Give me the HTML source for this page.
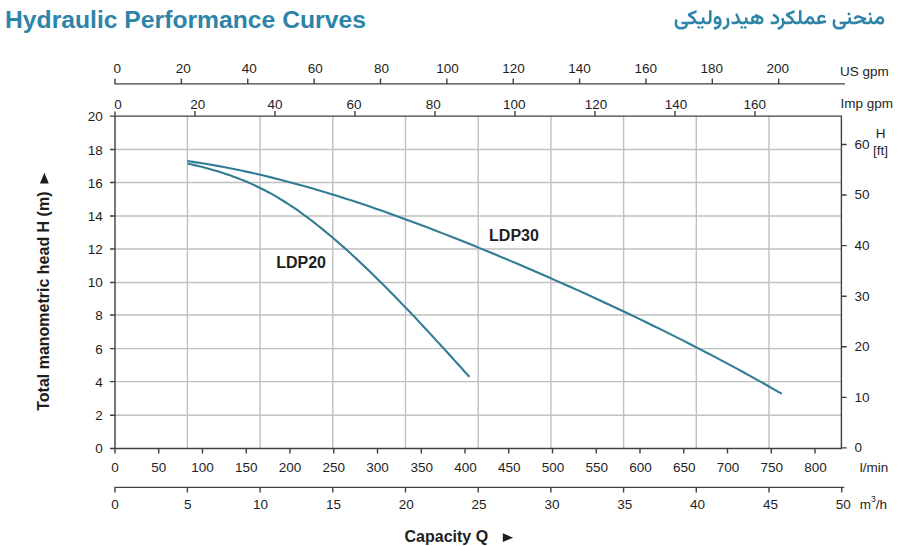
<!DOCTYPE html><html><head><meta charset="utf-8"><style>html,body{margin:0;padding:0;background:#fff;width:900px;height:546px;overflow:hidden}</style></head><body><svg width="900" height="546" viewBox="0 0 900 546" style="position:absolute;left:0;top:0"><path d="M187.40 116.10V448.50M260.10 116.10V448.50M332.80 116.10V448.50M405.50 116.10V448.50M478.20 116.10V448.50M550.90 116.10V448.50M623.60 116.10V448.50M696.30 116.10V448.50M769.00 116.10V448.50M115.00 415.20H841.40M115.00 381.60H841.40M115.00 348.60H841.40M115.00 315.00H841.40M115.00 282.50H841.40M115.00 249.00H841.40M115.00 216.00H841.40M115.00 182.50H841.40M115.00 149.50H841.40" stroke="#c0c0c0" stroke-width="1.4" fill="none"/><path d="M115.0 111.60V453.50M110.0 116.10H841.40V448.50H110.0M110.0 415.20H115.0M110.0 381.60H115.0M110.0 348.60H115.0M110.0 315.00H115.0M110.0 282.50H115.0M110.0 249.00H115.0M110.0 216.00H115.0M110.0 182.50H115.0M110.0 149.50H115.0M158.75 448.50v5M202.50 448.50v5M246.25 448.50v5M290.00 448.50v5M333.75 448.50v5M377.50 448.50v5M421.25 448.50v5M465.00 448.50v5M508.75 448.50v5M552.50 448.50v5M596.25 448.50v5M640.00 448.50v5M683.75 448.50v5M727.50 448.50v5M771.25 448.50v5M815.00 448.50v5M195.00 116.10v-5M275.00 116.10v-5M355.00 116.10v-5M435.00 116.10v-5M515.00 116.10v-5M595.00 116.10v-5M675.00 116.10v-5M755.00 116.10v-5M841.40 447.90h5.3M841.40 397.33h5.3M841.40 346.77h5.3M841.40 296.20h5.3M841.40 245.63h5.3M841.40 195.07h5.3M841.40 144.50h5.3M115.0 78.40V83.9H845M181.37 83.90v-5.5M247.74 83.90v-5.5M314.11 83.90v-5.5M380.48 83.90v-5.5M446.85 83.90v-5.5M513.22 83.90v-5.5M579.59 83.90v-5.5M645.96 83.90v-5.5M712.33 83.90v-5.5M778.70 83.90v-5.5M115.0 492.40V487.4H844.20M187.40 487.40v5M260.10 487.40v5M332.80 487.40v5M405.50 487.40v5M478.20 487.40v5M550.90 487.40v5M623.60 487.40v5M696.30 487.40v5M769.00 487.40v5M841.70 487.40v5" stroke="#404040" stroke-width="1.4" fill="none"/><path d="M187.3 161.03 194.8 162.13 202.3 163.30 209.8 164.55 217.4 165.88 224.9 167.27 232.4 168.74 239.9 170.28 247.4 171.89 254.9 173.56 262.5 175.30 270.0 177.11 277.5 178.98 285.0 180.91 292.5 182.90 300.0 184.95 307.5 187.06 315.1 189.23 322.6 191.45 330.1 193.72 337.6 196.05 345.1 198.43 352.6 200.86 360.1 203.34 367.7 205.86 375.2 208.43 382.7 211.05 390.2 213.70 397.7 216.40 405.2 219.14 412.8 221.91 420.3 224.73 427.8 227.57 435.3 230.45 442.8 233.37 450.3 236.31 457.8 239.29 465.4 242.29 472.9 245.32 480.4 248.37 487.9 251.45 495.4 254.56 502.9 257.70 510.5 260.86 518.0 264.04 525.5 267.25 533.0 270.49 540.5 273.75 548.0 277.03 555.5 280.34 563.1 283.67 570.6 287.02 578.1 290.40 585.6 293.81 593.1 297.24 600.6 300.70 608.2 304.18 615.7 307.69 623.2 311.23 630.7 314.81 638.2 318.41 645.7 322.04 653.2 325.70 660.8 329.39 668.3 333.11 675.8 336.87 683.3 340.66 690.8 344.48 698.3 348.34 705.8 352.24 713.4 356.17 720.9 360.14 728.4 364.15 735.9 368.19 743.4 372.28 750.9 376.41 758.5 380.58 766.0 384.79 773.5 389.04 781.0 393.34" stroke="#327d95" stroke-width="2.1" fill="none" stroke-linecap="butt" stroke-linejoin="round"/><path d="M187.3 163.53 190.9 164.30 194.4 165.11 198.0 165.95 201.6 166.83 205.1 167.74 208.7 168.70 212.2 169.69 215.8 170.73 219.4 171.82 222.9 172.95 226.5 174.13 230.1 175.36 233.6 176.65 237.2 177.98 240.7 179.37 244.3 180.82 247.9 182.33 251.4 183.90 255.0 185.53 258.6 187.22 262.1 188.98 265.7 190.80 269.3 192.70 272.8 194.66 276.4 196.70 279.9 198.81 283.5 200.99 287.1 203.25 290.6 205.58 294.2 207.98 297.8 210.45 301.3 212.98 304.9 215.57 308.5 218.22 312.0 220.94 315.6 223.70 319.1 226.53 322.7 229.40 326.3 232.33 329.8 235.30 333.4 238.32 337.0 241.38 340.5 244.49 344.1 247.64 347.6 250.83 351.2 254.06 354.8 257.33 358.3 260.63 361.9 263.98 365.5 267.36 369.0 270.77 372.6 274.22 376.2 277.71 379.7 281.22 383.3 284.76 386.8 288.34 390.4 291.94 394.0 295.57 397.5 299.22 401.1 302.90 404.7 306.61 408.2 310.33 411.8 314.08 415.4 317.85 418.9 321.64 422.5 325.45 426.0 329.27 429.6 333.11 433.2 336.97 436.7 340.84 440.3 344.73 443.9 348.62 447.4 352.53 451.0 356.45 454.5 360.37 458.1 364.31 461.7 368.25 465.2 372.20 468.8 376.15" stroke="#327d95" stroke-width="2.1" fill="none" stroke-linecap="butt" stroke-linejoin="round"/><circle cx="781.00" cy="393.34" r="1.05" fill="#327d95"/><circle cx="468.80" cy="376.15" r="1.05" fill="#327d95"/><g font-family="Liberation Sans, sans-serif"><text x="117.20" y="73.00" text-anchor="middle" font-size="13.5" font-weight="400" fill="#1e1e1e">0</text><text x="183.26" y="73.00" text-anchor="middle" font-size="13.5" font-weight="400" fill="#1e1e1e">20</text><text x="249.32" y="73.00" text-anchor="middle" font-size="13.5" font-weight="400" fill="#1e1e1e">40</text><text x="315.38" y="73.00" text-anchor="middle" font-size="13.5" font-weight="400" fill="#1e1e1e">60</text><text x="381.44" y="73.00" text-anchor="middle" font-size="13.5" font-weight="400" fill="#1e1e1e">80</text><text x="447.50" y="73.00" text-anchor="middle" font-size="13.5" font-weight="400" fill="#1e1e1e">100</text><text x="513.56" y="73.00" text-anchor="middle" font-size="13.5" font-weight="400" fill="#1e1e1e">120</text><text x="579.62" y="73.00" text-anchor="middle" font-size="13.5" font-weight="400" fill="#1e1e1e">140</text><text x="645.68" y="73.00" text-anchor="middle" font-size="13.5" font-weight="400" fill="#1e1e1e">160</text><text x="711.74" y="73.00" text-anchor="middle" font-size="13.5" font-weight="400" fill="#1e1e1e">180</text><text x="777.80" y="73.00" text-anchor="middle" font-size="13.5" font-weight="400" fill="#1e1e1e">200</text><text x="840.00" y="75.90" text-anchor="start" font-size="13.5" font-weight="400" fill="#1e1e1e">US gpm</text><text x="117.90" y="108.80" text-anchor="middle" font-size="13.5" font-weight="400" fill="#1e1e1e">0</text><text x="197.80" y="108.80" text-anchor="middle" font-size="13.5" font-weight="400" fill="#1e1e1e">20</text><text x="275.00" y="108.80" text-anchor="middle" font-size="13.5" font-weight="400" fill="#1e1e1e">40</text><text x="354.00" y="108.80" text-anchor="middle" font-size="13.5" font-weight="400" fill="#1e1e1e">60</text><text x="433.30" y="108.80" text-anchor="middle" font-size="13.5" font-weight="400" fill="#1e1e1e">80</text><text x="514.30" y="108.80" text-anchor="middle" font-size="13.5" font-weight="400" fill="#1e1e1e">100</text><text x="596.00" y="108.80" text-anchor="middle" font-size="13.5" font-weight="400" fill="#1e1e1e">120</text><text x="676.00" y="108.80" text-anchor="middle" font-size="13.5" font-weight="400" fill="#1e1e1e">140</text><text x="754.70" y="108.80" text-anchor="middle" font-size="13.5" font-weight="400" fill="#1e1e1e">160</text><text x="840.50" y="108.30" text-anchor="start" font-size="13.5" font-weight="400" fill="#1e1e1e">Imp gpm</text><text x="102.80" y="453.20" text-anchor="end" font-size="13.5" font-weight="400" fill="#1e1e1e">0</text><text x="102.80" y="420.02" text-anchor="end" font-size="13.5" font-weight="400" fill="#1e1e1e">2</text><text x="102.80" y="386.84" text-anchor="end" font-size="13.5" font-weight="400" fill="#1e1e1e">4</text><text x="102.80" y="353.66" text-anchor="end" font-size="13.5" font-weight="400" fill="#1e1e1e">6</text><text x="102.80" y="320.48" text-anchor="end" font-size="13.5" font-weight="400" fill="#1e1e1e">8</text><text x="102.80" y="287.30" text-anchor="end" font-size="13.5" font-weight="400" fill="#1e1e1e">10</text><text x="102.80" y="254.12" text-anchor="end" font-size="13.5" font-weight="400" fill="#1e1e1e">12</text><text x="102.80" y="220.94" text-anchor="end" font-size="13.5" font-weight="400" fill="#1e1e1e">14</text><text x="102.80" y="187.76" text-anchor="end" font-size="13.5" font-weight="400" fill="#1e1e1e">16</text><text x="102.80" y="154.58" text-anchor="end" font-size="13.5" font-weight="400" fill="#1e1e1e">18</text><text x="102.80" y="121.40" text-anchor="end" font-size="13.5" font-weight="400" fill="#1e1e1e">20</text><text x="854.60" y="452.20" text-anchor="start" font-size="13.5" font-weight="400" fill="#1e1e1e">0</text><text x="854.60" y="401.63" text-anchor="start" font-size="13.5" font-weight="400" fill="#1e1e1e">10</text><text x="854.60" y="351.07" text-anchor="start" font-size="13.5" font-weight="400" fill="#1e1e1e">20</text><text x="854.60" y="300.50" text-anchor="start" font-size="13.5" font-weight="400" fill="#1e1e1e">30</text><text x="854.60" y="249.93" text-anchor="start" font-size="13.5" font-weight="400" fill="#1e1e1e">40</text><text x="854.60" y="199.37" text-anchor="start" font-size="13.5" font-weight="400" fill="#1e1e1e">50</text><text x="854.60" y="148.80" text-anchor="start" font-size="13.5" font-weight="400" fill="#1e1e1e">60</text><text x="880.50" y="138.00" text-anchor="middle" font-size="13.5" font-weight="400" fill="#1e1e1e">H</text><text x="880.50" y="155.00" text-anchor="middle" font-size="13.5" font-weight="400" fill="#1e1e1e">[ft]</text><text x="115.00" y="472.40" text-anchor="middle" font-size="13.5" font-weight="400" fill="#1e1e1e">0</text><text x="158.75" y="472.40" text-anchor="middle" font-size="13.5" font-weight="400" fill="#1e1e1e">50</text><text x="202.50" y="472.40" text-anchor="middle" font-size="13.5" font-weight="400" fill="#1e1e1e">100</text><text x="246.25" y="472.40" text-anchor="middle" font-size="13.5" font-weight="400" fill="#1e1e1e">150</text><text x="290.00" y="472.40" text-anchor="middle" font-size="13.5" font-weight="400" fill="#1e1e1e">200</text><text x="333.75" y="472.40" text-anchor="middle" font-size="13.5" font-weight="400" fill="#1e1e1e">250</text><text x="377.50" y="472.40" text-anchor="middle" font-size="13.5" font-weight="400" fill="#1e1e1e">300</text><text x="421.75" y="472.40" text-anchor="middle" font-size="13.5" font-weight="400" fill="#1e1e1e">350</text><text x="465.50" y="472.40" text-anchor="middle" font-size="13.5" font-weight="400" fill="#1e1e1e">400</text><text x="509.25" y="472.40" text-anchor="middle" font-size="13.5" font-weight="400" fill="#1e1e1e">450</text><text x="553.00" y="472.40" text-anchor="middle" font-size="13.5" font-weight="400" fill="#1e1e1e">500</text><text x="596.75" y="472.40" text-anchor="middle" font-size="13.5" font-weight="400" fill="#1e1e1e">550</text><text x="640.50" y="472.40" text-anchor="middle" font-size="13.5" font-weight="400" fill="#1e1e1e">600</text><text x="684.25" y="472.40" text-anchor="middle" font-size="13.5" font-weight="400" fill="#1e1e1e">650</text><text x="728.00" y="472.40" text-anchor="middle" font-size="13.5" font-weight="400" fill="#1e1e1e">700</text><text x="771.75" y="472.40" text-anchor="middle" font-size="13.5" font-weight="400" fill="#1e1e1e">750</text><text x="815.50" y="472.40" text-anchor="middle" font-size="13.5" font-weight="400" fill="#1e1e1e">800</text><text x="859.80" y="472.40" text-anchor="start" font-size="13.5" font-weight="400" fill="#1e1e1e">l/min</text><text x="114.90" y="508.80" text-anchor="middle" font-size="13.5" font-weight="400" fill="#1e1e1e">0</text><text x="187.74" y="508.80" text-anchor="middle" font-size="13.5" font-weight="400" fill="#1e1e1e">5</text><text x="260.58" y="508.80" text-anchor="middle" font-size="13.5" font-weight="400" fill="#1e1e1e">10</text><text x="333.42" y="508.80" text-anchor="middle" font-size="13.5" font-weight="400" fill="#1e1e1e">15</text><text x="406.26" y="508.80" text-anchor="middle" font-size="13.5" font-weight="400" fill="#1e1e1e">20</text><text x="479.10" y="508.80" text-anchor="middle" font-size="13.5" font-weight="400" fill="#1e1e1e">25</text><text x="551.94" y="508.80" text-anchor="middle" font-size="13.5" font-weight="400" fill="#1e1e1e">30</text><text x="624.78" y="508.80" text-anchor="middle" font-size="13.5" font-weight="400" fill="#1e1e1e">35</text><text x="697.62" y="508.80" text-anchor="middle" font-size="13.5" font-weight="400" fill="#1e1e1e">40</text><text x="770.46" y="508.80" text-anchor="middle" font-size="13.5" font-weight="400" fill="#1e1e1e">45</text><text x="843.30" y="508.80" text-anchor="middle" font-size="13.5" font-weight="400" fill="#1e1e1e">50</text><text x="859.8" y="508.6" font-size="13.5" fill="#1e1e1e">m<tspan font-size="8.5" dy="-6.3">3</tspan><tspan dy="6.3">/h</tspan></text><text x="276.20" y="267.60" text-anchor="start" font-size="16" font-weight="700" fill="#1e1e1e">LDP20</text><text x="489.10" y="241.20" text-anchor="start" font-size="16" font-weight="700" fill="#1e1e1e">LDP30</text><text x="404.50" y="542.00" text-anchor="start" font-size="16" font-weight="700" fill="#1e1e1e">Capacity Q</text><path d="M502.8 533.3L513.2 537.7L502.8 542.0Z" fill="#1e1e1e"/><text transform="translate(49.1 410.8) rotate(-90)" font-size="16" font-weight="700" fill="#1e1e1e">Total manometric head H (m)</text><path d="M39.9 183.4L44.4 172.8L48.8 183.4Z" fill="#1e1e1e"/><text x="5.0" y="27.8" font-size="24.7" font-weight="700" fill="#2e84a8">Hydraulic Performance Curves</text></g><path transform="translate(674.6 9.9)" fill="#2e84a8" fill-rule="evenodd" d="M70.69 15.94 69.06 17.44 69.06 17.69 70.56 19.19 72.19 17.56ZM67.19 15.94 65.56 17.56 67.19 19.19 68.81 17.56ZM27.69 15.94 26.06 17.44 26.06 17.69 27.56 19.19 29.19 17.56ZM24.19 15.94 22.56 17.56 24.19 19.19 25.81 17.56ZM54.06 7.94 51.56 8.69 52.44 12.31 52.31 14.19 51.69 15.44 50.81 16.31 49.06 17.19 47.69 17.44 48.69 19.94 49.94 19.69 51.94 18.69 53.31 17.44 54.19 16.06 54.81 13.69 54.81 11.31ZM43.81 6.31 42.44 6.19 41.06 6.69 39.94 7.81 39.31 9.06 39.06 10.06 39.06 11.69 39.56 13.06 40.31 13.81 41.44 14.31 44.19 14.44 43.94 15.06 42.56 16.31 40.44 17.19 39.06 17.44 39.94 19.94 41.69 19.56 44.19 18.31 45.31 17.31 46.56 15.19 46.94 13.31 46.94 11.44 46.69 9.94 45.69 7.69 44.69 6.69ZM41.81 9.31 42.69 8.81 43.56 9.06 44.31 10.19 44.56 11.56 43.44 11.81 41.81 11.56 41.44 11.19 41.44 10.19ZM158.06 14.31 158.31 15.56 158.94 17.06 159.56 17.94 160.31 18.56 161.69 19.31 162.69 19.56 165.44 19.69 167.44 19.31 169.44 18.31 170.56 17.19 171.19 15.56 171.19 14.44 173.56 14.19 174.69 13.56 175.19 13.06 175.94 13.81 176.94 14.31 180.44 14.44 183.19 13.94 187.44 12.19 187.94 13.19 188.81 13.94 190.94 14.44 194.19 14.31 195.31 13.81 196.19 13.06 196.44 13.44 197.56 14.19 198.44 14.44 199.94 14.44 201.19 14.06 202.31 13.06 203.69 14.06 205.44 14.69 206.56 14.69 208.19 14.06 209.06 13.06 209.56 11.44 209.56 9.94 208.94 8.19 207.94 7.06 206.56 6.44 205.19 6.31 204.19 6.56 203.56 6.94 202.44 8.06 200.69 10.94 199.81 11.69 198.44 11.69 197.69 11.19 197.31 9.81 197.19 7.44 194.94 7.69 194.94 10.69 194.19 11.56 192.94 11.81 190.31 11.69 189.31 11.19 190.19 10.69 191.56 10.44 191.56 7.94 189.69 7.69 184.31 5.44 182.69 5.31 181.06 5.94 179.69 7.31 178.94 8.56 181.06 9.56 182.31 8.19 182.81 7.94 183.69 7.94 187.06 9.19 187.06 9.56 184.06 10.94 181.31 11.69 178.44 11.81 177.06 11.56 176.44 10.69 176.19 7.44 173.94 7.69 173.94 10.69 172.94 11.69 164.69 11.81 165.06 13.56 165.56 14.44 168.19 14.44 168.94 14.94 168.94 15.31 168.44 15.94 167.69 16.44 165.94 16.94 163.69 17.06 162.06 16.56 160.94 15.44 160.56 14.56 160.44 12.81 161.06 10.06 158.81 9.19 158.19 11.44ZM205.19 8.94 206.06 8.94 206.56 9.19 207.06 9.81 207.19 11.06 207.06 11.44 206.31 12.06 205.44 11.94 204.44 11.44 203.69 10.69 204.19 9.81ZM99.19 3.69 98.94 3.69 97.94 6.06 99.94 7.19 101.81 8.94 102.31 9.94 102.19 10.69 101.56 11.31 99.44 11.81 98.06 11.81 96.06 11.44 96.06 14.19 97.44 14.44 99.56 14.44 101.81 14.06 103.06 13.44 104.06 12.44 104.44 11.69 104.69 9.94 104.56 8.94 104.06 7.69 102.94 6.19 101.94 5.31ZM57.06 14.19 58.31 14.44 61.44 14.31 62.94 13.81 64.19 12.94 65.06 13.81 66.44 14.44 69.69 14.31 71.06 13.69 71.69 13.06 72.44 13.81 73.94 14.44 76.94 14.44 80.19 13.56 83.31 14.31 85.56 14.31 87.44 13.56 88.31 12.69 88.81 11.44 88.94 9.69 88.44 8.31 87.44 7.19 85.44 5.81 81.19 3.81 80.19 5.69 78.94 5.81 77.94 6.31 77.06 7.19 76.44 8.81 76.56 10.31 77.19 11.56 77.06 11.69 74.69 11.81 73.44 11.44 72.94 10.56 72.69 7.44 70.44 7.69 70.56 10.19 70.44 10.81 69.94 11.44 68.44 11.81 66.81 11.69 65.94 10.81 62.81 3.44 62.56 3.44 60.69 4.31 60.56 4.56 62.69 9.19 62.69 10.81 62.31 11.19 61.06 11.69 59.06 11.81 57.06 11.44ZM84.19 8.06 85.81 9.06 86.56 9.94 86.44 11.19 85.56 11.81 84.56 11.94 83.19 11.69 84.06 10.06ZM79.94 7.81 81.31 7.94 82.06 8.94 81.94 10.06 81.31 10.69 80.56 11.06 79.69 10.69 78.81 9.69 78.94 8.56ZM195.44 2.44 195.19 2.44 193.69 4.06 195.31 5.81 197.06 4.06ZM174.44 2.44 174.19 2.44 172.69 4.06 174.31 5.81 176.06 4.06ZM102.69 17.56 103.56 19.94 104.44 19.81 106.94 18.69 108.31 17.44 109.31 15.69 109.81 14.06 110.69 14.44 114.81 14.44 116.56 14.06 117.69 13.44 118.19 12.94 119.31 13.94 120.94 14.44 123.94 14.31 124.81 13.94 125.69 13.19 127.31 14.31 129.94 14.44 131.19 14.06 132.31 13.06 133.69 14.06 135.44 14.69 136.56 14.69 137.56 14.44 138.69 13.44 139.69 14.19 140.44 14.44 143.69 14.44 148.31 13.69 151.31 12.81 151.31 10.06 146.31 11.31 145.19 10.06 145.06 8.81 145.69 7.94 147.06 7.44 148.56 7.69 149.94 8.44 150.94 6.19 148.19 4.81 146.06 4.81 144.44 5.56 143.44 6.56 142.69 8.19 142.69 10.06 143.19 11.44 143.06 11.81 140.56 11.69 140.19 11.44 139.56 10.44 139.31 9.06 138.44 7.56 137.69 6.94 135.94 6.31 134.56 6.44 133.56 6.94 132.44 8.06 131.44 9.81 130.19 11.44 129.19 11.81 128.06 11.69 127.19 11.06 126.94 10.19 126.94 0.31 124.44 0.31 124.31 10.81 123.81 11.44 123.31 11.69 120.94 11.69 120.31 11.44 119.69 10.81 118.31 8.06 116.44 6.31 114.44 5.06 119.94 2.81 119.94 0.06 112.06 3.31 111.31 4.31 111.31 5.44 111.69 6.31 115.69 9.06 116.69 10.06 116.69 10.94 116.31 11.31 115.31 11.69 110.69 11.69 109.81 10.81 109.06 7.94 106.56 8.69 107.44 12.31 107.44 13.56 107.19 14.56 106.69 15.44 105.81 16.31 104.69 16.94ZM135.19 8.94 136.06 8.94 136.56 9.19 137.06 9.81 137.19 11.06 137.06 11.44 136.31 12.06 135.06 11.81 133.69 10.69 134.19 9.81ZM36.94 0.31 34.44 0.31 34.44 10.44 34.19 11.19 33.44 11.69 31.69 11.81 30.94 11.69 30.31 11.31 29.94 10.56 29.69 7.44 27.44 7.69 27.44 10.81 26.94 11.44 26.44 11.69 22.94 11.69 22.31 11.44 21.69 10.81 20.31 8.06 18.44 6.31 16.44 5.06 21.94 2.81 21.94 0.06 14.06 3.31 13.31 4.31 13.31 5.44 13.69 6.31 16.69 8.31 18.69 10.06 18.81 10.56 18.31 11.31 17.31 11.69 15.44 11.81 6.69 11.81 7.06 13.56 7.56 14.44 10.19 14.44 10.94 14.94 10.94 15.31 10.44 15.94 9.69 16.44 7.94 16.94 5.69 17.06 4.06 16.56 2.94 15.44 2.56 14.56 2.44 12.81 3.06 10.06 0.81 9.19 0.06 12.44 0.06 14.31 0.56 16.31 1.56 17.94 3.69 19.31 5.44 19.69 7.44 19.69 9.44 19.31 11.44 18.31 12.56 17.19 13.19 15.56 13.19 14.44 17.69 14.31 19.31 13.69 20.19 12.94 21.31 13.94 22.94 14.44 26.69 14.31 28.06 13.69 28.69 13.06 29.44 13.81 30.94 14.44 33.31 14.44 34.94 14.06 35.56 13.69 36.31 12.81 36.94 10.94Z"/></svg></body></html>
